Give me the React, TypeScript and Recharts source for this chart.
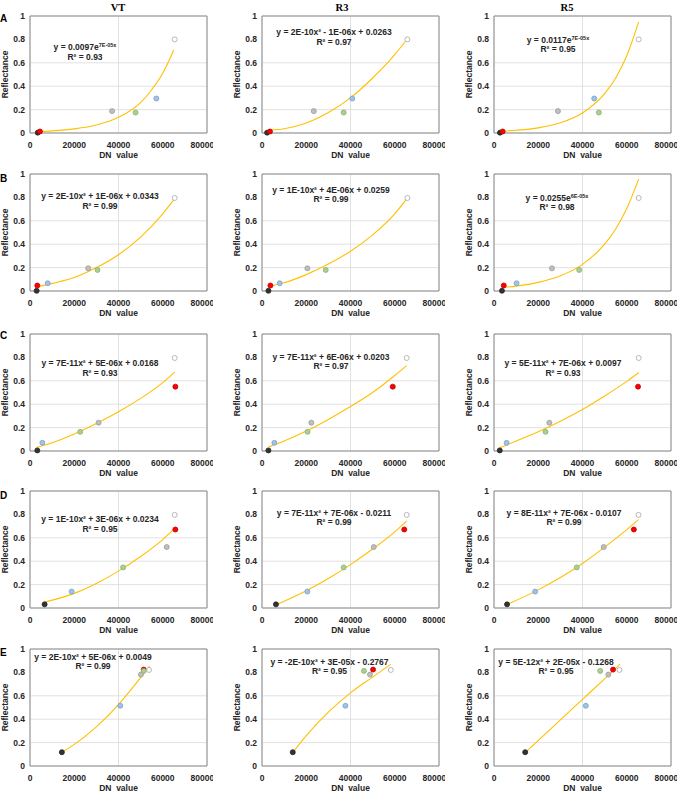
import React from 'react';
import {
  ComposedChart,
  Scatter,
  Line,
  XAxis,
  YAxis,
  CartesianGrid,
  ReferenceArea,
} from 'recharts';

// calibration targets, same order in every DN / reflectance array below
const targets = ['Black', 'Red', 'Blue', 'Gray', 'Green', 'White'];
const bands = ['VT', 'R3', 'R5'];
const rowLetters = ['A', 'B', 'C', 'D', 'E'];
const xTicks = [0, 20000, 40000, 60000, 80000];
const yTicks = [0, 0.2, 0.4, 0.6, 0.8, 1];

// measured reflectance of each target, one array per row
const reflA = [0.003, 0.013, 0.295, 0.187, 0.175, 0.8];
const reflB = [0.002, 0.047, 0.066, 0.194, 0.18, 0.795];
const reflC = [0.005, 0.55, 0.07, 0.242, 0.164, 0.795];
const reflD = [0.031, 0.671, 0.14, 0.521, 0.347, 0.796];
const reflE = [0.118, 0.824, 0.515, 0.781, 0.813, 0.821];

// DN value of each target, one array per panel
const dnAVT = [3500, 4500, 57100, 37100, 47700, 65400];
const dnAR3 = [2300, 3600, 40800, 23400, 36900, 65700];
const dnAR5 = [2700, 3900, 45300, 28900, 47400, 65400];
const dnBVT = [3000, 3300, 8000, 26300, 30500, 65400];
const dnBR3 = [2900, 3800, 8000, 20500, 28800, 65700];
const dnBR5 = [3600, 4400, 10200, 26200, 38500, 65400];
const dnCVT = [3300, 65700, 5600, 31000, 22700, 65400];
const dnCR3 = [2900, 59100, 5600, 22300, 20600, 65400];
const dnCR5 = [2600, 65100, 5700, 25000, 23300, 65400];
const dnDVT = [6600, 65700, 18800, 61800, 42100, 65400];
const dnDR3 = [6300, 64300, 20500, 50500, 36900, 65400];
const dnDR5 = [5900, 63200, 18600, 49600, 37400, 65300];
const dnEVT = [14400, 51400, 40800, 50100, 51400, 53800];
const dnER3 = [13900, 50200, 37700, 48800, 46100, 58200];
const dnER5 = [14100, 53800, 41500, 51700, 48000, 56700];

// trendlines as [DN, reflectance]
const trendAVT = [[4000, 0.012], [10000, 0.018], [20000, 0.035], [30000, 0.068], [40000, 0.134], [50000, 0.26], [55000, 0.37], [60000, 0.51], [65000, 0.71]];
const trendAR3 = [[3500, 0.024], [10000, 0.036], [20000, 0.085], [30000, 0.175], [40000, 0.3], [50000, 0.47], [60000, 0.67], [65500, 0.8]];
const trendAR5 = [[4000, 0.015], [10000, 0.023], [20000, 0.044], [30000, 0.087], [40000, 0.171], [50000, 0.336], [55000, 0.47], [60000, 0.66], [65400, 0.95]];
const trendBVT = [[3000, 0.035], [10000, 0.065], [20000, 0.115], [30000, 0.2], [40000, 0.31], [50000, 0.46], [60000, 0.66], [65400, 0.79]];
const trendBR3 = [[3500, 0.04], [10000, 0.07], [20000, 0.14], [30000, 0.23], [40000, 0.34], [50000, 0.48], [60000, 0.66], [65500, 0.79]];
const trendBR5 = [[4000, 0.03], [10000, 0.042], [20000, 0.074], [30000, 0.13], [40000, 0.228], [50000, 0.4], [55000, 0.53], [60000, 0.705], [65400, 0.957]];
const trendCVT = [[3000, 0.03], [10000, 0.07], [20000, 0.145], [30000, 0.235], [40000, 0.335], [50000, 0.45], [60000, 0.585], [65400, 0.675]];
const trendCR3 = [[3000, 0.035], [10000, 0.085], [20000, 0.17], [30000, 0.27], [40000, 0.38], [50000, 0.5], [60000, 0.645], [65400, 0.73]];
const trendCR5 = [[2500, 0.025], [10000, 0.085], [20000, 0.165], [30000, 0.255], [40000, 0.355], [50000, 0.47], [60000, 0.595], [65400, 0.67]];
const trendDVT = [[6600, 0.05], [20000, 0.125], [30000, 0.21], [40000, 0.315], [50000, 0.44], [60000, 0.585], [65400, 0.68]];
const trendDR3 = [[6300, 0.026], [20000, 0.147], [30000, 0.252], [40000, 0.371], [50000, 0.504], [60000, 0.651], [65400, 0.745]];
const trendDR5 = [[5900, 0.03], [20000, 0.155], [30000, 0.26], [40000, 0.38], [50000, 0.52], [60000, 0.67], [65300, 0.755]];
const trendEVT = [[14400, 0.118], [20000, 0.185], [30000, 0.335], [40000, 0.525], [50000, 0.755], [54100, 0.855]];
const trendER3 = [[13900, 0.115], [20000, 0.26], [30000, 0.46], [40000, 0.625], [50000, 0.76], [58200, 0.87]];
const trendER5 = [[14100, 0.115], [30000, 0.395], [40000, 0.57], [50000, 0.745], [57000, 0.87]];

// equation text: [main, superscript, r²]
const eqA = [
  ['y = 0.0097e', '7E-05x', 'R² = 0.93'],
  ['y = 2E-10x² - 1E-06x + 0.0263', '', 'R² = 0.97'],
  ['y = 0.0117e', '7E-05x', 'R² = 0.95'],
];
const eqB = [
  ['y = 2E-10x² + 1E-06x + 0.0343', '', 'R² = 0.99'],
  ['y = 1E-10x² + 4E-06x + 0.0259', '', 'R² = 0.99'],
  ['y = 0.0255e', '6E-05x', 'R² = 0.98'],
];
const eqC = [
  ['y = 7E-11x² + 5E-06x + 0.0168', '', 'R² = 0.93'],
  ['y = 7E-11x² + 6E-06x + 0.0203', '', 'R² = 0.97'],
  ['y = 5E-11x² + 7E-06x + 0.0097', '', 'R² = 0.93'],
];
const eqD = [
  ['y = 1E-10x² + 3E-06x + 0.0234', '', 'R² = 0.95'],
  ['y = 7E-11x² + 7E-06x - 0.0211', '', 'R² = 0.99'],
  ['y = 8E-11x² + 7E-06x - 0.0107', '', 'R² = 0.99'],
];
const eqE = [
  ['y = 2E-10x² + 5E-06x + 0.0049', '', 'R² = 0.99'],
  ['y = -2E-10x² + 3E-05x - 0.2767', '', 'R² = 0.95'],
  ['y = 5E-12x² + 2E-05x - 0.1268', '', 'R² = 0.95'],
];

const reflRows = [reflA, reflB, reflC, reflD, reflE];
const dnRows = [
  [dnAVT, dnAR3, dnAR5],
  [dnBVT, dnBR3, dnBR5],
  [dnCVT, dnCR3, dnCR5],
  [dnDVT, dnDR3, dnDR5],
  [dnEVT, dnER3, dnER5],
];
const trendRows = [
  [trendAVT, trendAR3, trendAR5],
  [trendBVT, trendBR3, trendBR5],
  [trendCVT, trendCR3, trendCR5],
  [trendDVT, trendDR3, trendDR5],
  [trendEVT, trendER3, trendER5],
];
const eqRows = [eqA, eqB, eqC, eqD, eqE];

// layout (pixels)
const colLeft = [30, 262, 494];
const rowTop = [16, 174, 334, 491, 649];
const PLOT_W = 177;
const PLOT_H = 117;
const AXIS_W = 30;
const PAD_T = 6;
const PAD_R = 6;
const XAXIS_H = 30;
const titleX = [118, 342, 567];
const letterY = [22, 182, 339, 499, 656];
// equation centre relative to plot top-left
const eqPos = [
  [[55, 31], [72, 16], [64, 23.5]],
  [[70, 22], [69, 15.5], [63, 23.5]],
  [[70, 29], [69, 22.5], [69, 29]],
  [[70, 28], [72, 21.5], [70, 21.5]],
  [[63, 7.5], [67.5, 12.5], [62, 12.5]],
];

const fills = ['#333333', '#ff0000', '#9dc3e6', '#bfbfbf', '#a9d18e', '#ffffff'];
const strokes = ['#222222', '#c00000', '#7f9fc8', '#9a9a9a', '#8cb074', '#a6a6a6'];

const sans = '"Liberation Sans", Arial, sans-serif';
const serif = '"Liberation Serif", "Times New Roman", serif';
const tickStyle = { fontSize: 8.5, fontFamily: sans, fontWeight: 700, fill: '#262626' };

function Panel({ row, col }: { row: number; col: number }) {
  const dn = dnRows[row][col];
  const refl = reflRows[row];
  const curve = trendRows[row][col].map(([x, y]) => ({ x, y }));
  return (
    <div style={{ position: 'absolute', left: colLeft[col] - AXIS_W, top: rowTop[row] - PAD_T }}>
      <ComposedChart
        width={AXIS_W + PLOT_W + PAD_R}
        height={PAD_T + PLOT_H + XAXIS_H}
        margin={{ top: PAD_T, right: PAD_R, bottom: 0, left: 0 }}
      >
        <CartesianGrid stroke="#d9d9d9" strokeWidth={0.8} />
        <XAxis
          type="number"
          dataKey="x"
          domain={[0, 80000]}
          ticks={xTicks}
          height={XAXIS_H}
          axisLine={false}
          tickLine={false}
          tickSize={0}
          tickMargin={9}
          tick={tickStyle}
        />
        <YAxis
          type="number"
          dataKey="y"
          domain={[0, 1]}
          ticks={yTicks}
          width={AXIS_W}
          axisLine={false}
          tickLine={false}
          tickSize={0}
          tickMargin={5}
          tick={tickStyle}
        />
        <ReferenceArea x1={0} x2={80000} y1={0} y2={1} fill="none" stroke="#8c8c8c" strokeWidth={1} />
        {targets.map((t, i) => (
          <Scatter
            key={t}
            name={t}
            data={[{ x: dn[i], y: refl[i] }]}
            dataKey="y"
            isAnimationActive={false}
            shape={(p: any) => (
              <circle cx={p.cx} cy={p.cy} r={2.5} fill={fills[i]} stroke={strokes[i]} strokeWidth={0.8} />
            )}
          />
        ))}
        <Line
          data={curve}
          dataKey="y"
          type="monotone"
          stroke="#ffc000"
          strokeWidth={1.1}
          dot={false}
          activeDot={false}
          isAnimationActive={false}
        />
      </ComposedChart>
    </div>
  );
}

function PanelText({ row, col }: { row: number; col: number }) {
  const left = colLeft[col];
  const top = rowTop[row];
  const [main, sup, r2] = eqRows[row][col];
  const [ex, ey] = eqPos[row][col];
  const ylx = left - 25;
  const yly = top + PLOT_H / 2;
  return (
    <g fontFamily={sans} fontWeight={700} fill="#262626">
      <text x={ylx} y={yly} dy="0.35em" fontSize={8.5} textAnchor="middle" transform={`rotate(-90 ${ylx} ${yly})`}>
        Reflectance
      </text>
      <text x={left + 88.5} y={top + PLOT_H + 24.5} fontSize={8.5} textAnchor="middle" style={{ whiteSpace: 'pre' }}>
        {'DN  value'}
      </text>
      <text x={left + ex} y={top + ey + 3} fontSize={8.5} textAnchor="middle">
        {main}
        {sup ? (
          <tspan fontSize={5.5} dy={-3}>
            {sup}
          </tspan>
        ) : null}
      </text>
      <text x={left + ex} y={top + ey + 12.5} fontSize={8.5} textAnchor="middle">
        {r2}
      </text>
    </g>
  );
}

export default function App() {
  const cells: { row: number; col: number }[] = [];
  rowLetters.forEach((_, row) => bands.forEach((_, col) => cells.push({ row, col })));
  return (
    <div style={{ position: 'absolute', left: 0, top: 0, width: 684, height: 793, background: '#fff' }}>
      {cells.map((c) => (
        <Panel key={`p-${c.row}-${c.col}`} row={c.row} col={c.col} />
      ))}
      <svg width={684} height={793} style={{ position: 'absolute', left: 0, top: 0, pointerEvents: 'none' }}>
        {bands.map((b, i) => (
          <text key={b} x={titleX[i]} y={10.5} textAnchor="middle" fontFamily={serif} fontWeight={700} fontSize={10.5} fill="#000">
            {b}
          </text>
        ))}
        {rowLetters.map((r, i) => (
          <text key={r} x={0} y={letterY[i]} fontFamily={sans} fontWeight={700} fontSize={10} fill="#000">
            {r}
          </text>
        ))}
        {cells.map((c) => (
          <PanelText key={`t-${c.row}-${c.col}`} row={c.row} col={c.col} />
        ))}
      </svg>
    </div>
  );
}
